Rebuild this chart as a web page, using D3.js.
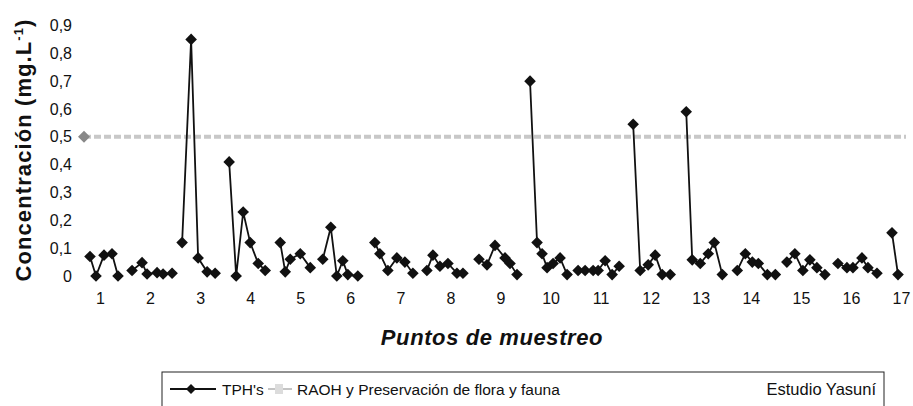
<!DOCTYPE html>
<html>
<head>
<meta charset="utf-8">
<script src="https://cdn.jsdelivr.net/npm/d3@7"></script>
<style>
  body { margin: 0; background: #fff; }
  text { font-family: "Liberation Sans", Arial, sans-serif; fill: #111; }
</style>
</head>
<body>
<div id="chart"></div>
<script>
// sampling points shown on the x axis
var puntos = [1, 2, 3, 4, 5, 6, 7, 8, 9, 10, 11, 12, 13, 14, 15, 16, 17];

// y ticks
var yTicks = [0, 0.1, 0.2, 0.3, 0.4, 0.5, 0.6, 0.7, 0.8, 0.9];

// RAOH limit
var limiteRAOH = 0.5;

// TPH's, one list per sampling point: position along the axis and concentration
var tphPos = [
  [0.80, 0.92, 1.08, 1.24, 1.36],
  [1.64, 1.84, 1.94, 2.14, 2.26, 2.44],
  [2.64, 2.82, 2.96, 3.14, 3.30],
  [3.58, 3.72, 3.86, 4.00, 4.16, 4.30],
  [4.60, 4.70, 4.80, 5.00, 5.20],
  [5.45, 5.61, 5.73, 5.85, 5.95, 6.15],
  [6.49, 6.59, 6.75, 6.93, 7.09, 7.25],
  [7.53, 7.65, 7.79, 7.95, 8.13, 8.25],
  [8.57, 8.73, 8.89, 9.09, 9.19, 9.33],
  [9.59, 9.73, 9.83, 9.93, 10.05, 10.19, 10.33],
  [10.55, 10.69, 10.85, 10.95, 11.09, 11.23, 11.37],
  [11.65, 11.79, 11.95, 12.09, 12.23, 12.39],
  [12.71, 12.83, 12.99, 13.15, 13.27, 13.43],
  [13.73, 13.89, 14.03, 14.15, 14.33, 14.49],
  [14.72, 14.88, 15.04, 15.18, 15.32, 15.48],
  [15.74, 15.92, 16.04, 16.22, 16.34, 16.52],
  [16.82, 16.94]
];
var tphVal = [
  [0.07, 0, 0.075, 0.08, 0],
  [0.02, 0.048, 0.007, 0.012, 0.007, 0.01],
  [0.12, 0.85, 0.065, 0.015, 0.01],
  [0.41, 0, 0.23, 0.12, 0.045, 0.02],
  [0.12, 0.015, 0.06, 0.08, 0.03],
  [0.06, 0.175, 0, 0.055, 0.005, 0],
  [0.12, 0.08, 0.02, 0.065, 0.05, 0.01],
  [0.02, 0.075, 0.035, 0.045, 0.01, 0.01],
  [0.06, 0.04, 0.11, 0.065, 0.045, 0.005],
  [0.70, 0.12, 0.08, 0.03, 0.045, 0.065, 0.005],
  [0.02, 0.02, 0.02, 0.02, 0.055, 0.005, 0.035],
  [0.545, 0.02, 0.04, 0.075, 0.005, 0.005],
  [0.59, 0.058, 0.045, 0.08, 0.12, 0.005],
  [0.02, 0.08, 0.05, 0.045, 0.005, 0.005],
  [0.05, 0.08, 0.02, 0.058, 0.03, 0.005],
  [0.045, 0.03, 0.03, 0.065, 0.03, 0.01],
  [0.155, 0.005]
];

var svgWidth = 913;
var svgHeight = 406;

var svg = d3.select("#chart")
  .append("svg")
  .attr("width", svgWidth)
  .attr("height", svgHeight);

var xScale = d3.scaleLinear()
  .domain([1, 17])
  .range([100, 901]);

var yScale = d3.scaleLinear()
  .domain([0, 0.9])
  .range([276, 25.5]);

var coma = function(d) { return d === 0 ? "0" : d3.format(".1f")(d).replace(".", ","); };

// square diamond (rotated square), r = half diagonal
function rombo(r) {
  return "M0," + (-r) + "L" + r + ",0L0," + r + "L" + (-r) + ",0Z";
}

// y axis: labels only, no line
var yAxis = svg.append("g")
  .attr("transform", "translate(76,0)")
  .call(d3.axisLeft(yScale).tickValues(yTicks).tickFormat(coma).tickSize(0).tickPadding(4));
yAxis.select(".domain").remove();
yAxis.selectAll("text")
  .style("font-family", "'Liberation Sans', Arial, sans-serif")
  .style("font-size", "16px")
  .attr("fill", "#111");

// x axis labels
var xAxis = svg.append("g")
  .attr("transform", "translate(0,290)")
  .call(d3.axisBottom(xScale).tickValues(puntos).tickFormat(d3.format("d")).tickSize(0).tickPadding(3));
xAxis.select(".domain").remove();
xAxis.selectAll("text")
  .style("font-family", "'Liberation Sans', Arial, sans-serif")
  .style("font-size", "16px")
  .attr("fill", "#111");

// limit line
svg.append("line")
  .attr("x1", 84)
  .attr("x2", 906)
  .attr("y1", yScale(limiteRAOH))
  .attr("y2", yScale(limiteRAOH))
  .attr("stroke", "#c8c8c8")
  .attr("stroke-width", 4)
  .attr("stroke-dasharray", "7,3");

svg.append("path")
  .attr("d", rombo(6))
  .attr("transform", "translate(84," + yScale(limiteRAOH) + ")")
  .attr("fill", "#888");

// TPH's series
var line = d3.line()
  .x(function(d) { return xScale(d[0]); })
  .y(function(d) { return yScale(d[1]); });

var grupos = tphPos.map(function(xs, i) {
  return xs.map(function(x, j) { return [x, tphVal[i][j]]; });
});

svg.selectAll(".tph-line")
  .data(grupos)
  .enter()
  .append("path")
  .attr("class", "tph-line")
  .attr("d", line)
  .attr("fill", "none")
  .attr("stroke", "#111")
  .attr("stroke-width", 1.8);

var puntosTPH = [].concat.apply([], grupos);

svg.selectAll(".tph-dot")
  .data(puntosTPH)
  .enter()
  .append("path")
  .attr("class", "tph-dot")
  .attr("d", rombo(5.8))
  .attr("transform", function(d) { return "translate(" + xScale(d[0]) + "," + yScale(d[1]) + ")"; })
  .attr("fill", "#111");

// axis titles
var yTitle = svg.append("text")
  .attr("transform", "translate(31,150) rotate(-90)")
  .attr("text-anchor", "middle")
  .style("font-size", "22px")
  .style("font-weight", "bold")
  .style("letter-spacing", "1.1px");
yTitle.append("tspan").text("Concentración (mg.L");
yTitle.append("tspan").attr("dy", -8).style("font-size", "13px").text("-1");
yTitle.append("tspan").attr("dy", 8).text(")");

svg.append("text")
  .attr("x", 492)
  .attr("y", 345)
  .attr("text-anchor", "middle")
  .style("font-size", "22px")
  .style("font-weight", "bold")
  .style("font-style", "italic")
  .style("letter-spacing", "0.6px")
  .text("Puntos de muestreo");

// legend
var legend = svg.append("g");

legend.append("rect")
  .attr("x", 162)
  .attr("y", 372)
  .attr("width", 722)
  .attr("height", 40)
  .attr("fill", "none")
  .attr("stroke", "#222")
  .attr("stroke-width", 1);

legend.append("line")
  .attr("x1", 170).attr("x2", 216)
  .attr("y1", 389).attr("y2", 389)
  .attr("stroke", "#111").attr("stroke-width", 1.8);
legend.append("path")
  .attr("d", rombo(5))
  .attr("transform", "translate(191,389)")
  .attr("fill", "#111");
legend.append("text")
  .attr("x", 222).attr("y", 395)
  .style("font-size", "15.5px")
  .text("TPH's");

legend.append("line")
  .attr("x1", 268).attr("x2", 292)
  .attr("y1", 389).attr("y2", 389)
  .attr("stroke", "#c4c4c4").attr("stroke-width", 2);
legend.append("rect")
  .attr("x", 275).attr("y", 384)
  .attr("width", 8).attr("height", 10)
  .attr("fill", "#dcdcdc");
legend.append("text")
  .attr("x", 297).attr("y", 395)
  .style("font-size", "15.5px")
  .text("RAOH y Preservación de flora y fauna");

legend.append("text")
  .attr("x", 876).attr("y", 395)
  .attr("text-anchor", "end")
  .style("font-size", "16.5px")
  .text("Estudio Yasuní");
</script>
</body>
</html>
